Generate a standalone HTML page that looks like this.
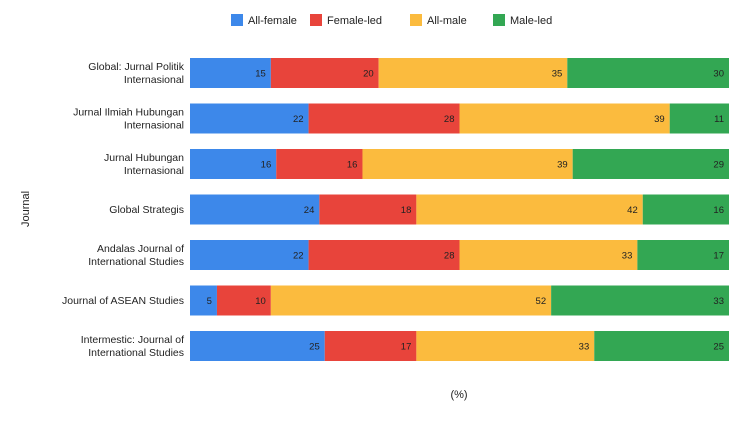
<!DOCTYPE html>
<html><head><meta charset="utf-8"><style>
body{margin:0;background:#fff;}
svg text{font-family:"Liberation Sans","DejaVu Sans",sans-serif;}
</style></head><body>
<svg id="chart" width="754" height="416" xmlns="http://www.w3.org/2000/svg">
<g id="legend"></g>
<g id="bars"></g>
<g id="labels"></g>
<text x="29" y="209" font-size="11" fill="#222" text-anchor="middle" transform="rotate(-90 29 209)">Journal</text>
<text x="459" y="398" font-size="11" fill="#222" text-anchor="middle">(%)</text>
</svg>
<script>
const categories=[["Global: Jurnal Politik","Internasional"],["Jurnal Ilmiah Hubungan","Internasional"],["Jurnal Hubungan","Internasional"],["Global Strategis"],["Andalas Journal of","International Studies"],["Journal of ASEAN Studies"],["Intermestic: Journal of","International Studies"]];
const seriesNames=["All-female","Female-led","All-male","Male-led"];
const allFemale=[15,22,16,24,22,5,25];
const femaleLed=[20,28,16,18,28,10,17];
const allMale=[35,39,39,42,33,52,33];
const maleLed=[30,11,29,16,17,33,25];
const colors=["#3d88ea","#e8443b","#fbbb3e","#33a753"];
const series=[allFemale,femaleLed,allMale,maleLed];
const NS="http://www.w3.org/2000/svg";
const x0=190,W=539,yTop=73,step=45.5,bh=30;
const xs=v=>x0+v/100*W;
const yc=i=>yTop+i*step;
function mk(t,a,p){const e=document.createElementNS(NS,t);for(const k in a)e.setAttribute(k,a[k]);p.appendChild(e);return e;}
const bars=document.getElementById('bars'),labels=document.getElementById('labels'),legend=document.getElementById('legend');
const lx=[231,310,410,493];
seriesNames.forEach((n,s)=>{
  const r=mk('rect',{x:lx[s],y:14,width:12,height:12,fill:colors[s]},legend);
  
  
  const t=mk('text',{x:lx[s]+17,y:24,'font-size':11,fill:'#222'},legend);
  t.textContent=n;
  
  
});
categories.forEach((c,i)=>{
  let cum=0;
  series.forEach((arr,s)=>{
    const v=arr[i];
    const r=mk('rect',{x:xs(cum),y:yc(i)-bh/2,width:xs(cum+v)-xs(cum),height:bh,fill:colors[s]},bars);
    
    
    cum+=v;
    const t=mk('text',{x:xs(cum)-5,y:yc(i)+3.5,'font-size':9.5,fill:'#222','text-anchor':'end'},bars);
    t.textContent=v;
    
    
  });
  const n=c.length;
  c.forEach((line,j)=>{
    const t=mk('text',{x:184,y:yc(i)+3.5+(j-(n-1)/2)*13,'font-size':10.5,fill:'#222','text-anchor':'end'},labels);
    t.textContent=line;
    
    
  });
});
</script>
</body></html>
